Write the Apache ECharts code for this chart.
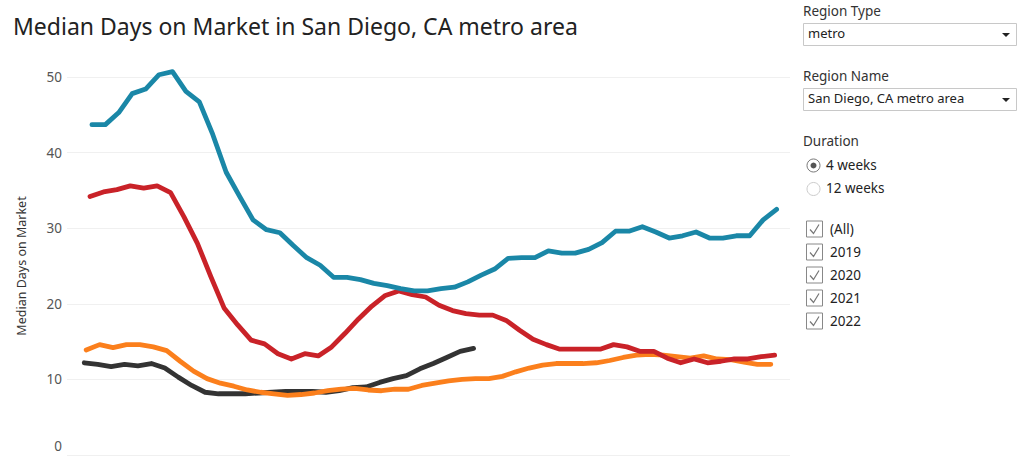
<!DOCTYPE html>
<html>
<head>
<meta charset="utf-8">
<script src="https://cdn.jsdelivr.net/npm/echarts@6/dist/echarts.min.js"></script>
<style>
html,body{margin:0;padding:0;background:#fff;}
#chart{width:1024px;height:463px;}
</style>
</head>
<body>
<div id="chart"></div>
<script>
// ---- data ----
const titleText = 'Median Days on Market in San Diego, CA metro area';
const yAxisName = 'Median Days on Market';
const yTicks = [0, 10, 20, 30, 40, 50];
const seriesNames = ['2019', '2020', '2021', '2022'];
// first day-of-year of each weekly series (week-ending dates)
const startDays = [6, 5, 3, 2];
const values2019 = [43.7,43.7,45.3,47.8,48.4,50.3,50.7,48.1,46.7,42.4,37.4,34.2,31.1,29.8,29.4,27.7,26.1,25.1,23.5,23.5,23.2,22.7,22.4,22.0,21.7,21.7,22.0,22.2,22.9,23.8,24.6,26.0,26.1,26.1,27.0,26.7,26.7,27.2,28.1,29.6,29.6,30.2,29.5,28.7,29.0,29.5,28.7,28.7,29.0,29.0,31.1,32.5];
const values2020 = [34.2,34.8,35.1,35.6,35.3,35.6,34.7,31.5,28.0,23.6,19.4,17.2,15.2,14.7,13.4,12.7,13.4,13.1,14.3,16.1,18.0,19.7,21.1,21.7,21.2,20.9,19.8,19.1,18.7,18.5,18.5,17.8,16.5,15.3,14.6,14.0,14.0,14.0,14.0,14.6,14.3,13.7,13.7,12.8,12.2,12.7,12.2,12.4,12.7,12.7,13.0,13.2];
const values2021 = [13.9,14.6,14.2,14.6,14.6,14.3,13.8,12.4,11.1,10.1,9.5,9.1,8.6,8.3,8.1,7.9,8.0,8.2,8.5,8.7,8.8,8.6,8.5,8.7,8.7,9.2,9.5,9.8,10.0,10.1,10.1,10.4,11.0,11.5,11.9,12.1,12.1,12.1,12.2,12.5,12.9,13.2,13.3,13.2,13.0,12.8,13.1,12.7,12.6,12.3,12.0,12.0];
const values2022 = [12.2,12.0,11.7,12.0,11.8,12.1,11.5,10.3,9.2,8.3,8.1,8.1,8.1,8.2,8.3,8.4,8.4,8.4,8.3,8.5,8.9,9.0,9.6,10.1,10.5,11.4,12.1,12.9,13.7,14.1];
const seriesColors = ['#1a87a7', '#c92228', '#fb7f1c', '#333333'];
// filter panel texts
const regionTypeLabel = 'Region Type';
const regionTypeValue = 'metro';
const regionNameLabel = 'Region Name';
const regionNameValue = 'San Diego, CA metro area';
const durationLabel = 'Duration';
const durationOptions = ['4 weeks', '12 weeks'];
const yearOptions = ['(All)', '2019', '2020', '2021', '2022'];

const allValues = [values2019, values2020, values2021, values2022];
const FONT = '"Noto Sans", "Open Sans", sans-serif';

const series = allValues.map((vals, k) => ({
  name: seriesNames[k],
  type: 'line',
  data: vals.map((v, i) => [startDays[k] + 7 * i, v]),
  showSymbol: false,
  symbol: 'none',
  clip: false,
  smooth: false,
  lineStyle: { color: seriesColors[k], width: 4.8, cap: 'round', join: 'round' },
  itemStyle: { color: seriesColors[k] },
  z: 10 - k
}));

// ---- filter panel graphics ----
const txtColor = '#333333';
const g = [];
function addText(x, y, text, size, color) {
  g.push({ type: 'text', left: x, top: y, style: { text: text, fill: color || txtColor, font: size + 'px ' + FONT } });
}
function addDropdown(y, value) {
  g.push({ type: 'rect', shape: { x: 803.5, y: y + 0.5, width: 213, height: 22 }, style: { fill: '#fff', stroke: '#c8c8c8', lineWidth: 1 } });
  addText(808, y + 3, value, 13, '#222');
  g.push({ type: 'polygon', shape: { points: [[1002, y + 10], [1010, y + 10], [1006, y + 14]] }, style: { fill: '#222' } });
}
addText(803, 4, regionTypeLabel, 13.5);
addDropdown(23, regionTypeValue);
addText(803, 69, regionNameLabel, 13.5);
addDropdown(88, regionNameValue);
addText(803, 134, durationLabel, 13.5);
durationOptions.forEach((t, i) => {
  const cy = 165.5 + i * 23.5;
  g.push({ type: 'circle', shape: { cx: 813.5, cy: cy, r: 6.5 }, style: { fill: '#fff', stroke: i === 0 ? '#777' : '#ccc', lineWidth: 1 } });
  if (i === 0) g.push({ type: 'circle', shape: { cx: 813.5, cy: cy, r: 3 }, style: { fill: '#555' } });
  addText(826, cy - 8, t, 13.5, '#222');
});
yearOptions.forEach((t, i) => {
  const cy = 229.5 + i * 23;
  g.push({ type: 'rect', shape: { x: 806.5, y: cy - 8.5, width: 16, height: 16 }, style: { fill: '#fff', stroke: '#888', lineWidth: 1 } });
  g.push({ type: 'polyline', shape: { points: [[810, cy], [813.5, cy + 4], [819, cy - 5]] }, style: { stroke: '#777', lineWidth: 1.2, fill: null } });
  addText(830, cy - 8, t, 13.5, '#222');
});

const chart = echarts.init(document.getElementById('chart'), null, { renderer: 'svg' });
chart.setOption({
  animation: false,
  backgroundColor: '#ffffff',
  title: {
    text: titleText,
    left: 8, top: 9,
    textStyle: { fontFamily: FONT, fontSize: 23, fontWeight: 'normal', color: '#222' }
  },
  grid: { left: 67, right: 234, top: 77, bottom: 8, containLabel: false },
  xAxis: {
    type: 'value', min: -7, max: 370,
    axisLine: { show: false }, axisTick: { show: false }, axisLabel: { show: false }, splitLine: { show: false }
  },
  yAxis: {
    type: 'value', min: 0, max: 50, interval: 10,
    name: yAxisName, nameLocation: 'middle', nameGap: 39,
    nameTextStyle: { fontFamily: FONT, fontSize: 12.5, color: '#333' },
    axisLine: { show: false }, axisTick: { show: false },
    axisLabel: {
      margin: 5, fontFamily: FONT, fontSize: 13.5, color: '#555',
      formatter: v => (yTicks.indexOf(v) >= 0 ? (v === 0 ? '{z|0}' : String(v)) : ''),
      rich: { z: { fontFamily: FONT, fontSize: 13.5, color: '#555', padding: [0, 0, 18, 0] } }
    },
    splitLine: { lineStyle: { color: '#f0f0f0', width: 1 } }
  },
  graphic: g,
  series: series
});
</script>
</body>
</html>
